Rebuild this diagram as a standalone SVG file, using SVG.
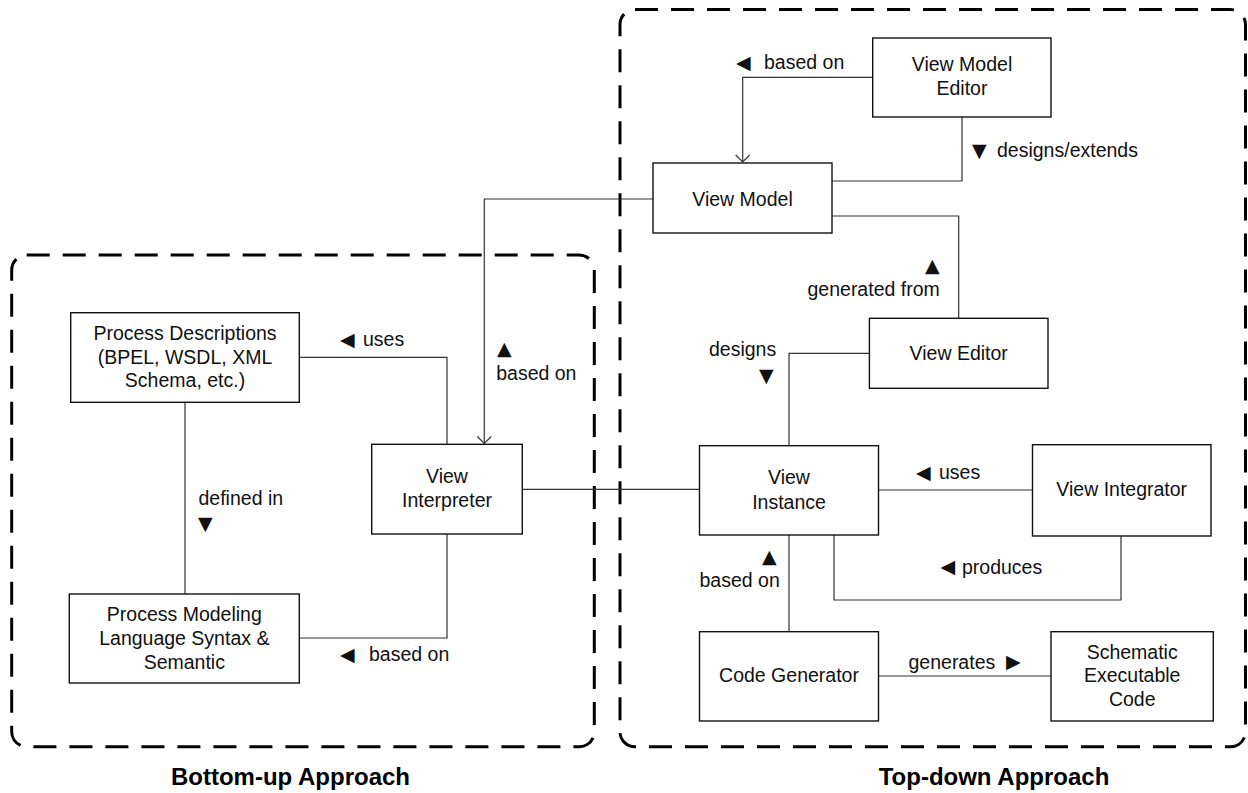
<svg xmlns="http://www.w3.org/2000/svg" width="1248" height="793" viewBox="0 0 1248 793">
<style>
  .box{fill:#fff;stroke:#111;stroke-width:1.4}
  .grp{fill:none;stroke:#000;stroke-width:3;stroke-dasharray:23 13}
  .con{fill:none;stroke:#333;stroke-width:1.2}
  text{font-family:"Liberation Sans",Arial,sans-serif;font-size:19.5px;fill:#111}
  .c{text-anchor:middle}
  .tri{font-family:"DejaVu Sans",sans-serif;font-size:19px}
  .title{font-weight:bold;font-size:24px;text-anchor:middle;fill:#000}
</style>
<defs>
  <marker id="open" markerUnits="userSpaceOnUse" markerWidth="16" markerHeight="16" viewBox="-10 -8 12 16" refX="0" refY="0" orient="auto">
    <path d="M-7,-7 L0,0 L-7,7" fill="none" stroke="#333" stroke-width="1.2"/>
  </marker>
</defs>
<rect width="1248" height="793" fill="#fff"/>

<g id="groups">
  <rect class="grp" x="11.7" y="255" width="582.6" height="491.7" rx="15"/>
  <rect class="grp" x="620" y="9.5" width="625.5" height="737.2" rx="15"/>
  <text class="title" x="290.5" y="784.5">Bottom-up Approach</text>
  <text class="title" x="994" y="784.5">Top-down Approach</text>
</g>

<g id="connectors">
  <path class="con" d="M872.7,77.3 H742.7 V162" marker-end="url(#open)"/>
  <path class="con" d="M962,117 V181 H832"/>
  <path class="con" d="M832,216 H958.7 V318"/>
  <path class="con" d="M653,199 H484.3 V443.5" marker-end="url(#open)"/>
  <path class="con" d="M869,353.3 H789 V445.7"/>
  <path class="con" d="M299.3,357.3 H447 V444.3"/>
  <path class="con" d="M185,402.3 V594"/>
  <path class="con" d="M299.3,638 H447 V534"/>
  <path class="con" d="M522.3,489.3 H699"/>
  <path class="con" d="M878.5,490 H1032.5"/>
  <path class="con" d="M834,535 V600 H1121 V536"/>
  <path class="con" d="M789,535 V631.7"/>
  <path class="con" d="M878.5,676 H1051"/>

  <text><tspan class="tri" x="736" y="68.5">◀</tspan><tspan x="764" y="69">based on</tspan></text>
  <text><tspan class="tri" x="972" y="156.5">▼</tspan><tspan x="997" y="157">designs/extends</tspan></text>
  <text><tspan class="tri" x="925" y="271.5">▲</tspan></text>
  <text x="807.5" y="296.2">generated from</text>
  <text x="709" y="356.2">designs</text>
  <text><tspan class="tri" x="759" y="381.5">▼</tspan></text>
  <text><tspan class="tri" x="916" y="478.8">◀</tspan><tspan x="939" y="479.2">uses</tspan></text>
  <text><tspan class="tri" x="340" y="345.8">◀</tspan><tspan x="363" y="346.2">uses</tspan></text>
  <text><tspan class="tri" x="497" y="354.8">▲</tspan></text>
  <text x="496.2" y="379.6">based on</text>
  <text x="198.5" y="505">defined in</text>
  <text><tspan class="tri" x="198" y="529.5">▼</tspan></text>
  <text><tspan class="tri" x="340" y="660.5">◀</tspan><tspan x="369" y="661">based on</tspan></text>
  <text><tspan class="tri" x="762" y="563.2">▲</tspan></text>
  <text x="699.5" y="587">based on</text>
  <text><tspan class="tri" x="940.6" y="573.2">◀</tspan><tspan x="962" y="573.6">produces</tspan></text>
  <text><tspan x="908.5" y="668.7">generates</tspan><tspan class="tri" x="1006" y="668.2">▶</tspan></text>
</g>

<g id="view-model-editor">
  <rect class="box" x="872.7" y="38" width="178.3" height="79"/>
  <text class="c" x="962" y="71.2">View Model</text>
  <text class="c" x="962" y="95.2">Editor</text>
</g>
<g id="view-model">
  <rect class="box" x="653" y="163" width="179" height="70"/>
  <text class="c" x="742.5" y="206">View Model</text>
</g>
<g id="view-editor">
  <rect class="box" x="869.4" y="318.3" width="178.6" height="70"/>
  <text class="c" x="958.7" y="359.7">View Editor</text>
</g>
<g id="view-instance">
  <rect class="box" x="699.5" y="445.7" width="179" height="89.3"/>
  <text class="c" x="789" y="484.2">View</text>
  <text class="c" x="789" y="508.7">Instance</text>
</g>
<g id="view-integrator">
  <rect class="box" x="1032.5" y="444.7" width="178.5" height="91.3"/>
  <text class="c" x="1121.7" y="496.2">View Integrator</text>
</g>
<g id="view-interpreter">
  <rect class="box" x="371.7" y="444.3" width="150.6" height="89.7"/>
  <text class="c" x="447" y="483">View</text>
  <text class="c" x="447" y="507">Interpreter</text>
</g>
<g id="process-descriptions">
  <rect class="box" x="70.7" y="312.7" width="228.6" height="89.6"/>
  <text class="c" x="185" y="340.2">Process Descriptions</text>
  <text class="c" x="185" y="363.7">(BPEL, WSDL, XML</text>
  <text class="c" x="185" y="387">Schema, etc.)</text>
</g>
<g id="process-modeling">
  <rect class="box" x="69.3" y="594" width="230" height="89"/>
  <text class="c" x="184.3" y="621">Process Modeling</text>
  <text class="c" x="184.3" y="645">Language Syntax &amp;</text>
  <text class="c" x="184.3" y="669">Semantic</text>
</g>
<g id="code-generator">
  <rect class="box" x="699.5" y="631.7" width="179" height="89.3"/>
  <text class="c" x="789" y="682">Code Generator</text>
</g>
<g id="schematic-executable-code">
  <rect class="box" x="1051" y="631.7" width="162.3" height="89.3"/>
  <text class="c" x="1132.2" y="659.2">Schematic</text>
  <text class="c" x="1132.2" y="682">Executable</text>
  <text class="c" x="1132.2" y="706">Code</text>
</g>
</svg>
